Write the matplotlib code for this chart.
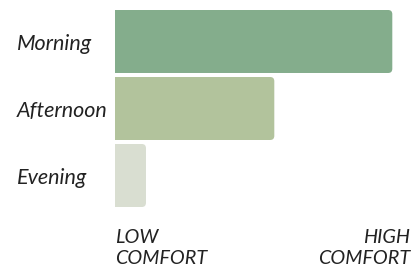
import matplotlib
matplotlib.use("Agg")
import matplotlib.pyplot as plt
from matplotlib.patches import FancyBboxPatch
from matplotlib.transforms import blended_transform_factory

periods = ["Morning", "Afternoon", "Evening"]
comfort = [94, 54, 10.5]
colors = ["#84ad8c", "#b2c39c", "#d9ded1"]
scale_labels = ["LOW\nCOMFORT", "HIGH\nCOMFORT"]

plt.rcParams["font.family"] = ["Lato", "DejaVu Sans"]

fig = plt.figure(figsize=(4.16, 2.71), dpi=100)
ax = fig.add_axes([115 / 416, 1 - 207 / 271, 295 / 416, 197 / 271])

bars = ax.barh(range(len(periods)), comfort, height=0.94, color=colors)
ax.set_xlim(0, 100)
ax.set_ylim(2.47, -0.47)

# swap the plain bars for ones with rounded right corners (left side clipped by the axes)
for b, c in zip(bars, colors):
    x, y, w, h = b.get_x(), b.get_y(), b.get_width(), b.get_height()
    b.set_visible(False)
    p = FancyBboxPatch((x - 5, y), w + 5, h,
                       boxstyle="round,pad=0,rounding_size=1.4",
                       mutation_aspect=0.045, fc=c, ec="none")
    ax.add_patch(p)

trans = blended_transform_factory(fig.transFigure, ax.transData)
for i, name in enumerate(periods):
    ax.text(17 / 416, i + 0.04, name, transform=trans,
            ha="left", va="center", fontsize=15.5, style="italic", color="#222222")

ax.text(0, -0.11, scale_labels[0], transform=ax.transAxes, ha="left", va="top",
        fontsize=14.3, style="italic", color="#222222", linespacing=1.3)
ax.text(1, -0.11, scale_labels[1], transform=ax.transAxes, ha="right", va="top",
        fontsize=14.3, style="italic", color="#222222", linespacing=1.3, multialignment="right")

ax.axis("off")
fig.savefig("out.png", dpi=100)
